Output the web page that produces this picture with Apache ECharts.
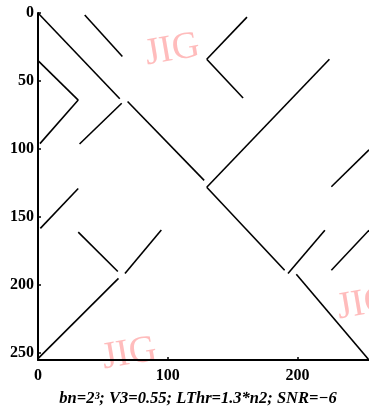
<!DOCTYPE html>
<html>
<head>
<meta charset="utf-8">
<script src="https://cdn.jsdelivr.net/npm/echarts@6/dist/echarts.min.js"></script>
<style>
html,body{margin:0;padding:0;background:#fff;}
#c{width:369px;height:411px;}
</style>
</head>
<body>
<div id="c"></div>
<script>
// Tick labels
const xTicks = [0, 100, 200];
const yTicks = [0, 50, 100, 150, 200, 250];

// Segments running down-right (x - y roughly constant), [ [x1,y1], [x2,y2] ]
const diagSegments = [
  [[0, 0], [63, 63]],
  [[69, 65], [128, 123]],
  [[130, 128], [190, 189]],
  [[199, 192], [255, 255]],
  [[36, 1.5], [65, 32]],
  [[0, 35], [31, 64]],
  [[130, 34], [158, 62.5]],
  [[31, 161], [61.5, 190]]
];

// Segments running up-right (x + y roughly constant)
const antiSegments = [
  [[0, 254], [62, 195]],
  [[67, 191.5], [95, 159.5]],
  [[130, 128], [224.5, 34]],
  [[31, 64], [1.5, 96]],
  [[32, 96.3], [64.5, 66.3]],
  [[130, 34], [161, 3]],
  [[1.8, 158.3], [31, 129]],
  [[226, 127.7], [255, 100.5]],
  [[192.6, 191.4], [221, 159.6]],
  [[226, 189], [255, 159.6]]
];

const caption = 'bn=2³; V3=0.55; LThr=1.3*n2; SNR=−6';
const watermark = 'JIG';

const chart = echarts.init(document.getElementById('c'), null, {renderer: 'canvas'});

const labelFont = {fontFamily: 'Liberation Serif', fontSize: 16, fontWeight: 'bold', color: '#000'};

const series = [];
diagSegments.concat(antiSegments).forEach(function (seg) {
  series.push({
    type: 'line',
    data: seg,
    symbol: 'none',
    silent: true,
    animation: false,
    lineStyle: {color: '#000', width: 1.6},
    z: 3
  });
});

chart.setOption({
  animation: false,
  backgroundColor: '#fff',
  grid: {left: 38, top: 13, right: 0, bottom: 51, containLabel: false},
  xAxis: {
    type: 'value', min: 0, max: 255, interval: 100, position: 'bottom',
    axisLine: {show: true, onZero: false, lineStyle: {color: '#000', width: 2}},
    axisTick: {show: true, inside: true, length: 3, customValues: xTicks, lineStyle: {color: '#000', width: 1.5}},
    axisLabel: Object.assign({margin: 8, customValues: xTicks}, labelFont),
    splitLine: {show: false}
  },
  yAxis: {
    type: 'value', min: 0, max: 255, interval: 50, inverse: true, position: 'left',
    axisLine: {show: true, onZero: false, lineStyle: {color: '#000', width: 2}},
    axisTick: {show: true, inside: true, length: 3, customValues: yTicks, lineStyle: {color: '#000', width: 1.5}},
    axisLabel: Object.assign({margin: 4, customValues: yTicks}, labelFont),
    splitLine: {show: false}
  },
  graphic: [
    {type: 'text', x: 142, y: 36, rotation: 0.17, z: 0,
     style: {text: watermark, font: '38px "Liberation Serif"', fill: '#ffbcbc'}},
    {type: 'text', x: 334, y: 290, rotation: 0.17, z: 0,
     style: {text: watermark, font: '38px "Liberation Serif"', fill: '#ffbcbc'}},
    {type: 'text', x: 99, y: 340, rotation: 0.17, z: 0,
     style: {text: watermark, font: '38px "Liberation Serif"', fill: '#ffbcbc'}},
    {type: 'text', x: 198, y: 399, z: 10,
     style: {text: caption, font: 'italic bold 16.5px "Liberation Serif"', fill: '#000', align: 'center', verticalAlign: 'middle'}}
  ],
  series: series
});
</script>
</body>
</html>
